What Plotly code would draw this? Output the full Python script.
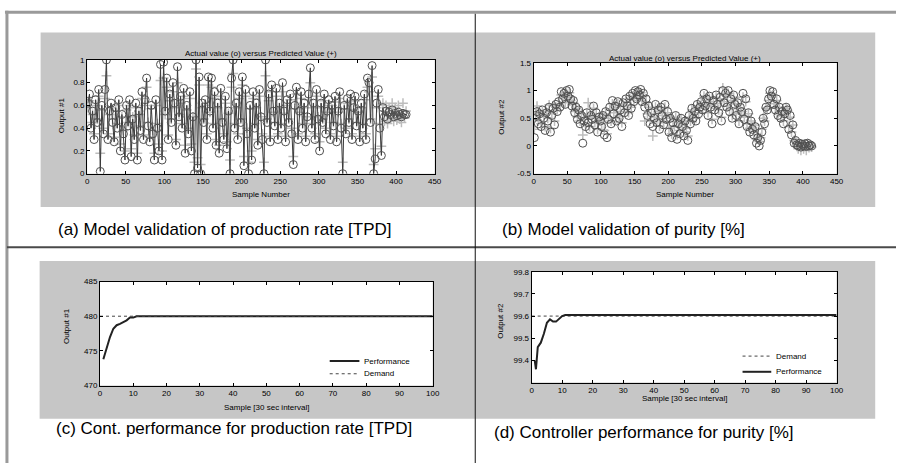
import plotly.graph_objects as go

W, H = 903, 468

# ---------------- data ----------------
sample_ab = list(range(1, 414, 2))  # sample numbers 1..413

actual_a = [
    0.62, 0.70, 0.40, 0.55, 0.30, 0.65, 0.45, 0.74, 0.02, 0.60, 0.35, 0.74, 1.00, 0.30, 0.55, 0.62, 0.45, 0.28, 0.58, 0.40, 0.65, 0.20, 0.52, 0.35, 0.12,
    0.60, 0.42, 0.65, 0.15, 0.48, 0.30, 0.62, 0.12, 0.55, 0.38, 0.72, 0.30, 0.65, 0.84, 0.42, 0.28, 0.60, 0.35, 0.12, 0.65, 0.40, 0.20, 0.96, 0.12, 0.98,
    0.55, 0.84, 0.30, 0.70, 0.45, 0.80, 0.62, 0.25, 0.94, 0.50, 0.68, 0.40, 0.75, 0.18, 0.60, 0.35, 0.72, 0.20, 0.50, 0.00, 1.00, 0.05, 0.85, 0.00, 0.62,
    0.45, 0.65, 0.30, 0.85, 0.55, 0.84, 0.40, 0.72, 0.25, 0.62, 0.18, 0.75, 0.45, 0.30, 0.68, 0.22, 0.55, 0.00, 0.84, 1.00, 0.40, 0.62, 0.30, 0.72, 0.45,
    0.85, 0.07, 0.74, 0.35, 0.00, 0.60, 0.12, 0.72, 0.40, 0.62, 0.25, 0.74, 0.50, 0.30, 0.00, 1.00, 0.45, 0.70, 0.28, 0.78, 0.55, 0.42, 0.75, 0.30, 0.62,
    0.40, 0.80, 0.55, 0.28, 0.65, 0.45, 0.70, 0.35, 0.08, 0.60, 0.76, 0.30, 0.55, 0.72, 0.40, 0.62, 0.28, 0.50, 0.70, 0.93, 0.40, 0.62, 0.30, 0.74, 0.48,
    0.20, 0.62, 0.45, 0.70, 0.35, 0.55, 0.65, 0.30, 0.60, 0.42, 0.68, 0.28, 0.55, 0.72, 0.40, 0.00, 0.60, 0.35, 0.66, 0.45, 0.70, 0.30, 0.58, 0.68, 0.42,
    0.55, 0.28, 0.62, 0.40, 0.70, 0.30, 0.84, 0.80, 0.45, 0.95, 0.00, 0.13, 0.62, 0.74, 0.40, 0.16, 0.58, 0.50, 0.55, 0.48, 0.54, 0.52, 0.56, 0.50, 0.53,
    0.51, 0.54, 0.52, 0.50, 0.53, 0.52, 0.52,
]
predicted_a = [
    0.58, 0.64, 0.45, 0.52, 0.35, 0.60, 0.48, 0.68, 0.18, 0.56, 0.40, 0.66, 0.86, 0.35, 0.52, 0.58, 0.48, 0.32, 0.55, 0.44, 0.60, 0.26, 0.50, 0.38, 0.20,
    0.56, 0.45, 0.60, 0.22, 0.50, 0.34, 0.58, 0.18, 0.52, 0.42, 0.66, 0.34, 0.60, 0.76, 0.45, 0.32, 0.57, 0.38, 0.18, 0.60, 0.44, 0.26, 0.82, 0.20, 0.84,
    0.52, 0.76, 0.34, 0.64, 0.48, 0.72, 0.58, 0.30, 0.80, 0.52, 0.62, 0.44, 0.68, 0.25, 0.56, 0.40, 0.66, 0.26, 0.50, 0.10, 0.92, 0.14, 0.78, 0.08, 0.58,
    0.48, 0.60, 0.35, 0.78, 0.54, 0.76, 0.44, 0.66, 0.30, 0.58, 0.25, 0.68, 0.48, 0.35, 0.62, 0.28, 0.53, 0.12, 0.76, 0.88, 0.44, 0.58, 0.35, 0.66, 0.48,
    0.78, 0.15, 0.68, 0.40, 0.10, 0.57, 0.20, 0.66, 0.44, 0.58, 0.30, 0.68, 0.50, 0.35, 0.10, 0.86, 0.48, 0.64, 0.33, 0.72, 0.54, 0.45, 0.68, 0.35, 0.58,
    0.44, 0.72, 0.53, 0.33, 0.60, 0.48, 0.65, 0.40, 0.15, 0.57, 0.70, 0.35, 0.54, 0.66, 0.44, 0.58, 0.33, 0.50, 0.65, 0.80, 0.44, 0.58, 0.35, 0.68, 0.50,
    0.28, 0.58, 0.48, 0.64, 0.40, 0.54, 0.60, 0.35, 0.57, 0.45, 0.63, 0.33, 0.54, 0.66, 0.44, 0.10, 0.57, 0.40, 0.62, 0.48, 0.64, 0.35, 0.56, 0.64, 0.45,
    0.54, 0.33, 0.58, 0.44, 0.65, 0.35, 0.76, 0.72, 0.48, 0.85, 0.08, 0.22, 0.58, 0.68, 0.44, 0.24, 0.62, 0.46, 0.60, 0.44, 0.58, 0.48, 0.62, 0.46, 0.58,
    0.47, 0.60, 0.48, 0.45, 0.62, 0.49, 0.55,
]

actual_b = [
    0.15, 0.55, 0.62, 0.40, 0.58, 0.35, 0.65, 0.50, 0.28, 0.60, 0.45, 0.70, 0.25, 0.55, 0.68, 0.38, 0.75, 0.62, 0.80, 0.70, 0.98, 0.85, 0.95, 0.75, 1.00,
    0.90, 1.02, 0.85, 0.72, 0.82, 0.60, 0.70, 0.48, 0.65, 0.40, 0.55, 0.05, 0.45, 0.35, 0.60, 0.42, 0.30, 0.55, 0.48, 0.72, 0.38, 0.60, 0.25, 0.52, 0.45,
    0.35, 0.55, 0.20, 0.62, 0.15, 0.48, 0.70, 0.40, 0.82, 0.58, 0.72, 0.45, 0.80, 0.50, 0.65, 0.35, 0.78, 0.60, 0.85, 0.72, 0.55, 0.90, 0.68, 0.95, 0.80,
    1.00, 0.85, 0.98, 0.92, 1.02, 0.80, 0.95, 0.70, 0.85, 0.55, 0.72, 0.40, 0.60, 0.35, 0.50, 0.75, 0.42, 0.65, 0.30, 0.70, 0.55, 0.38, 0.75, 0.48, 0.62,
    0.25, 0.50, 0.15, 0.42, 0.30, 0.55, 0.12, 0.40, 0.22, 0.50, 0.35, 0.18, 0.45, 0.28, 0.10, 0.55, 0.40, 0.68, 0.50, 0.62, 0.45, 0.75, 0.58, 0.70, 0.80,
    0.65, 0.95, 0.72, 0.85, 0.55, 0.90, 0.70, 0.40, 0.82, 0.65, 0.92, 0.75, 0.60, 0.88, 0.45, 1.00, 0.78, 0.95, 0.70, 1.00, 0.62, 0.85, 0.50, 0.92, 0.75,
    0.55, 0.78, 0.40, 0.70, 0.62, 0.95, 0.48, 0.85, 0.35, 0.60, 0.25, 0.45, 0.30, 0.20, 0.35, 0.05, 0.15, 0.00, 0.10, 0.25, 0.50, 0.40, 0.70, 0.65, 0.85,
    1.00, 0.90, 0.98, 0.75, 0.65, 0.85, 0.55, 0.70, 0.50, 0.62, 0.40, 0.58, 0.70, 0.65, 0.30, 0.55, 0.20, 0.38, 0.05, 0.10, 0.02, 0.00, 0.05, -0.02, 0.03,
    0.00, 0.04, -0.01, 0.05, 0.00, 0.02, 0.00,
]
predicted_b = [
    0.30, 0.58, 0.72, 0.45, 0.55, 0.40, 0.62, 0.55, 0.35, 0.62, 0.50, 0.74, 0.32, 0.58, 0.72, 0.45, 0.70, 0.65, 0.76, 0.72, 0.92, 0.88, 0.90, 0.78, 0.95,
    0.88, 0.96, 0.82, 0.75, 0.78, 0.62, 0.68, 0.52, 0.62, 0.45, 0.58, 0.20, 0.48, 0.40, 0.58, 0.78, 0.35, 0.55, 0.50, 0.68, 0.42, 0.58, 0.30, 0.52, 0.48,
    0.40, 0.52, 0.28, 0.58, 0.22, 0.50, 0.66, 0.45, 0.76, 0.60, 0.70, 0.50, 0.76, 0.54, 0.62, 0.42, 0.74, 0.62, 0.80, 0.74, 0.60, 0.86, 0.70, 0.90, 0.82,
    0.95, 0.88, 0.94, 0.90, 0.96, 0.82, 0.90, 0.45, 0.80, 0.58, 0.70, 0.45, 0.58, 0.18, 0.52, 0.70, 0.46, 0.62, 0.36, 0.66, 0.55, 0.42, 0.70, 0.50, 0.60,
    0.32, 0.50, 0.22, 0.45, 0.35, 0.52, 0.20, 0.42, 0.28, 0.48, 0.38, 0.25, 0.45, 0.32, 0.18, 0.52, 0.45, 0.65, 0.52, 0.60, 0.50, 0.72, 0.60, 0.68, 0.78,
    0.68, 0.90, 0.74, 0.82, 0.60, 0.86, 0.72, 0.48, 0.80, 0.68, 0.88, 0.76, 0.65, 0.85, 0.52, 1.05, 0.80, 0.92, 0.72, 0.95, 0.66, 0.82, 0.55, 0.88, 0.76,
    0.58, 0.75, 0.45, 0.68, 0.62, 0.88, 0.52, 0.80, 0.40, 0.58, 0.32, 0.45, 0.34, 0.26, 0.38, 0.12, 0.20, 0.08, 0.15, 0.30, 0.50, 0.45, 0.68, 0.66, 0.82,
    0.95, 0.88, 0.92, 0.76, 0.68, 0.82, 0.58, 0.70, 0.54, 0.62, 0.45, 0.58, 0.68, 0.64, 0.35, 0.52, 0.25, 0.38, 0.10, 0.08, 0.05, -0.05, 0.02, -0.08, 0.00,
    -0.05, 0.02, -0.08, 0.04, -0.03, 0.01, -0.02,
]

# (c) controller performance, production rate
sample_c = [1, 2, 3, 4, 5, 6, 7, 8, 9, 10, 11, 100]
perf_c = [473.8, 475.5, 477.0, 478.2, 478.7, 478.9, 479.1, 479.4, 479.8, 479.8, 480.0, 480.0]
demand_c_x = [0, 100]
demand_c = [480, 480]

# (d) controller performance, purity
sample_d = [1, 1.4, 2, 3, 4, 5, 6, 7, 8, 9, 10, 11, 100]
perf_d = [99.40, 99.36, 99.46, 99.48, 99.52, 99.57, 99.585, 99.575, 99.575, 99.59, 99.60, 99.605, 99.605]
demand_d_x = [0, 100]
demand_d = [99.6, 99.6]

captions = [
    "(a) Model validation of production rate [TPD]",
    "(b) Model validation of purity [%]",
    "(c) Cont. performance for production rate [TPD]",
    "(d) Controller performance for purity [%]",
]

# ---------------- helpers ----------------
def fx(p):
    return p / W

def fy(p):
    return 1 - p / H

FM = "Liberation Sans Narrow, Liberation Sans, Arial, sans-serif"
FC = "Liberation Sans, Arial, sans-serif"
DARK = "#3a3a3a"
LIGHT = "#bdbdbd"
GREY_BG = "#c6c6c6"

fig = go.Figure()

# (a)
fig.add_trace(go.Scatter(x=sample_ab, y=predicted_a, mode="markers", xaxis="x", yaxis="y",
                         marker=dict(symbol="cross-thin-open", size=7, color=LIGHT, line=dict(color=LIGHT, width=1.5)),
                         showlegend=False))
fig.add_trace(go.Scatter(x=sample_ab, y=actual_a, mode="lines+markers", xaxis="x", yaxis="y",
                         line=dict(color=DARK, width=1),
                         marker=dict(symbol="circle-open", size=8, color="#505050", line=dict(color="#505050", width=1)),
                         showlegend=False))
# (b)
fig.add_trace(go.Scatter(x=sample_ab, y=predicted_b, mode="markers", xaxis="x2", yaxis="y2",
                         marker=dict(symbol="cross-thin-open", size=7, color=LIGHT, line=dict(color=LIGHT, width=1.5)),
                         showlegend=False))
fig.add_trace(go.Scatter(x=sample_ab, y=actual_b, mode="markers", xaxis="x2", yaxis="y2",
                         marker=dict(symbol="circle-open", size=8, color="#505050", line=dict(color="#505050", width=1)),
                         showlegend=False))
# (c)
fig.add_trace(go.Scatter(x=sample_c, y=perf_c, mode="lines", xaxis="x3", yaxis="y3", name="Performance",
                         line=dict(color="#222222", width=2), showlegend=False))
fig.add_trace(go.Scatter(x=demand_c_x, y=demand_c, mode="lines", xaxis="x3", yaxis="y3", name="Demand",
                         line=dict(color="#444444", width=1, dash="dot"), showlegend=False))
# (d)
fig.add_trace(go.Scatter(x=demand_d_x, y=demand_d, mode="lines", xaxis="x4", yaxis="y4", name="Demand",
                         line=dict(color="#444444", width=1, dash="dot"), showlegend=False))
fig.add_trace(go.Scatter(x=sample_d, y=perf_d, mode="lines", xaxis="x4", yaxis="y4", name="Performance",
                         line=dict(color="#222222", width=2), showlegend=False))

axis_common = dict(showline=True, linecolor="black", linewidth=1, mirror="ticks", ticks="inside",
                   ticklen=3, tickcolor="black", showgrid=False, zeroline=False,
                   tickfont=dict(size=8, color="black", family=FM))

domains = {
    "a": ([86, 437], [57, 173]),
    "b": ([537, 843], [60, 173]),
    "c": ([99, 435], [283, 389]),
    "d": ([535, 843], [273, 386]),
}

def dx(k):
    a, b = domains[k][0]
    return [fx(a), fx(b)]

def dy(k):
    t, b = domains[k][1]
    return [fy(b), fy(t)]

layout = dict(
    width=W, height=H, margin=dict(l=0, r=0, t=0, b=0),
    paper_bgcolor="white", plot_bgcolor="white", showlegend=False,
    xaxis=dict(axis_common, domain=dx("a"), range=[0, 450], dtick=50, anchor="y"),
    yaxis=dict(axis_common, domain=dy("a"), range=[0, 1], tickvals=[0, 0.2, 0.4, 0.6, 0.8, 1],
               ticktext=["0", "0.2", "0.4", "0.6", "0.8", "1"], anchor="x"),
    xaxis2=dict(axis_common, domain=dx("b"), range=[0, 450], dtick=50, anchor="y2"),
    yaxis2=dict(axis_common, domain=dy("b"), range=[-0.5, 1.5], tickvals=[-0.5, 0, 0.5, 1, 1.5],
                ticktext=["-0.5", "0", "0.5", "1", "1.5"], anchor="x2"),
    xaxis3=dict(axis_common, domain=dx("c"), range=[0, 100], dtick=10, anchor="y3"),
    yaxis3=dict(axis_common, domain=dy("c"), range=[470, 485], tickvals=[470, 475, 480, 485], anchor="x3"),
    xaxis4=dict(axis_common, domain=dx("d"), range=[0, 100], dtick=10, anchor="y4"),
    yaxis4=dict(axis_common, domain=dy("d"), range=[99.3, 99.8], tickvals=[99.4, 99.5, 99.6, 99.7, 99.8],
                ticktext=["99.4", "99.5", "99.6", "99.7", "99.8"], anchor="x4"),
)

shapes = []
# grey figure backgrounds
for x0, x1, y0, y1 in [(39, 478, 29, 207), (478, 882, 29, 207), (38, 478, 262, 423), (478, 882, 262, 423)]:
    shapes.append(dict(type="rect", xref="paper", yref="paper", x0=fx(x0), x1=fx(x1), y0=fy(y1), y1=fy(y0),
                       fillcolor=GREY_BG, line=dict(width=0), layer="below"))
# white plot areas on top of grey
for xr, yr in [("x", "y"), ("x2", "y2"), ("x3", "y3"), ("x4", "y4")]:
    shapes.append(dict(type="rect", xref=xr + " domain", yref=yr + " domain", x0=0, x1=1, y0=0, y1=1,
                       fillcolor="white", line=dict(width=0), layer="below"))
# table frame lines
shapes.append(dict(type="line", xref="paper", yref="paper", x0=fx(3), x1=1, y0=fy(8.5), y1=fy(8.5),
                   line=dict(color="#9a9a9a", width=3)))
shapes.append(dict(type="line", xref="paper", yref="paper", x0=fx(5), x1=fx(5), y0=0, y1=fy(7),
                   line=dict(color="#9a9a9a", width=3)))
shapes.append(dict(type="line", xref="paper", yref="paper", x0=fx(5), x1=1, y0=fy(248), y1=fy(248),
                   line=dict(color="#4a4a4a", width=2)))
shapes.append(dict(type="line", xref="paper", yref="paper", x0=fx(478), x1=fx(478), y0=0, y1=fy(10),
                   line=dict(color="#111111", width=1)))

ann = []
def text(s, x, y, size, family, angle=0, xanchor="center"):
    ann.append(dict(text=s, x=fx(x), y=fy(y), xref="paper", yref="paper", showarrow=False,
                    xanchor=xanchor, yanchor="middle", textangle=angle,
                    font=dict(size=size, family=family, color="black")))

# manual legends (c) and (d)
def legend_entry(x0, x1, y, label, dashed):
    shapes.append(dict(type="line", xref="paper", yref="paper", x0=fx(x0), x1=fx(x1), y0=fy(y), y1=fy(y),
                       line=dict(color="#444444" if dashed else "#222222", width=1 if dashed else 2,
                                 dash="dot" if dashed else "solid")))
    text(label, x1 + 3, y, 8, FM, xanchor="left")

legend_entry(331, 361, 364, "Performance", False)
legend_entry(331, 361, 377, "Demand", True)
legend_entry(748, 777, 359, "Demand", True)
legend_entry(748, 777, 375, "Performance", False)

text("Actual value (o) versus Predicted Value (+)", 262, 50, 8, FM)
text("Actual value (o) versus Predicted Value (+)", 690, 56, 8, FM)
text("Sample Number", 262, 194, 8, FM)
text("Sample Number", 690, 194, 8, FM)
text("Sample [30 sec interval]", 267, 411, 8, FM)
text("Sample [30 sec interval]", 689, 402, 8, FM)
text("Output #1", 60, 113, 8, FM, angle=-90)
text("Output #2", 505, 115, 8, FM, angle=-90)
text("Output #1", 65, 328, 8, FM, angle=-90)
text("Output #2", 504, 323, 8, FM, angle=-90)

text(captions[0], 55, 230, 17, FC, xanchor="left")
text(captions[1], 503, 230, 17, FC, xanchor="left")
text(captions[2], 53, 433, 17, FC, xanchor="left")
text(captions[3], 495, 437, 17, FC, xanchor="left")

layout["shapes"] = shapes
layout["annotations"] = ann

fig.update_layout(**layout)
fig.write_html("out.html", config={"displayModeBar": False},
               post_script="document.body.style.margin='0';document.body.style.overflow='hidden';")
